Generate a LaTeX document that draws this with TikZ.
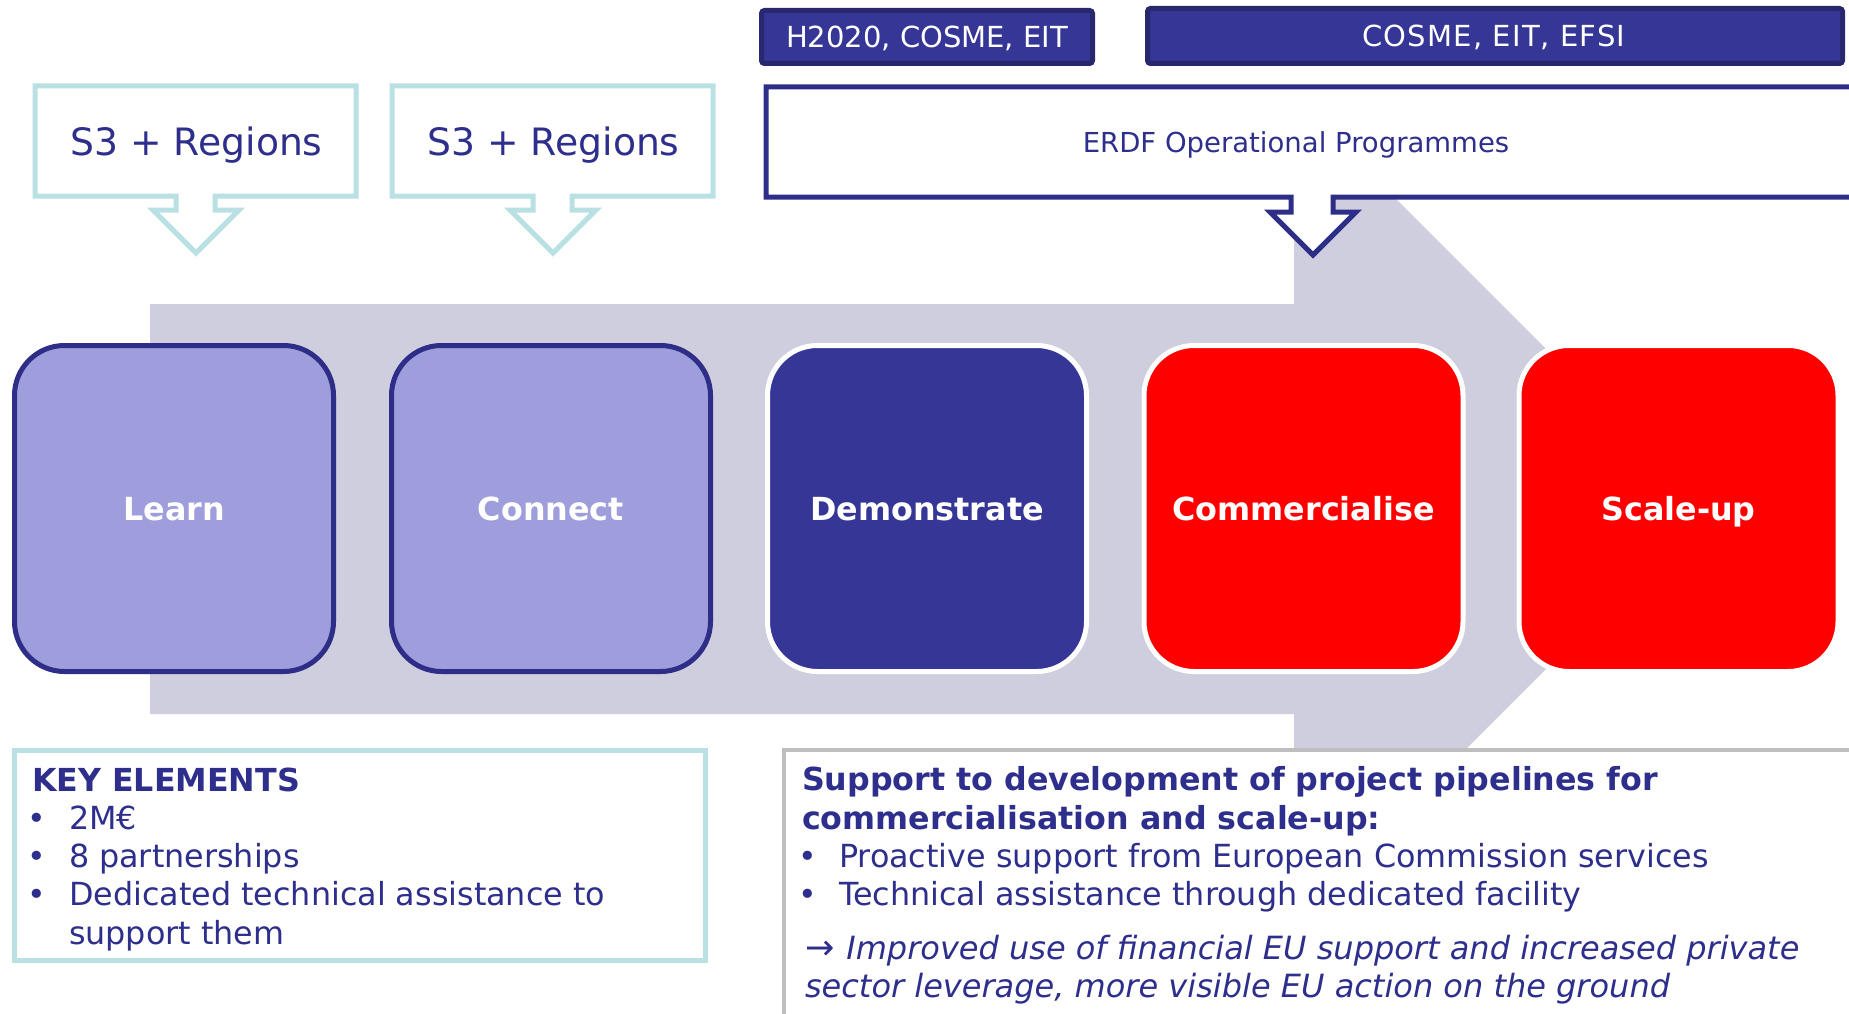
\documentclass[tikz,border=0pt]{standalone}
\usepackage{fontspec}
\setmainfont{DejaVu Sans}
\definecolor{navy}{RGB}{46,46,140}
\definecolor{boxborder}{RGB}{46,46,136}
\definecolor{darkfill}{RGB}{54,54,150}
\definecolor{topborder}{RGB}{40,40,110}
\definecolor{lightfill}{RGB}{158,158,220}
\definecolor{arrowgrey}{RGB}{206,206,222}
\definecolor{cyanline}{RGB}{185,224,227}
\definecolor{supgrey}{RGB}{190,190,190}
\definecolor{eured}{RGB}{255,0,0}
\begin{document}
\begin{tikzpicture}[x=1pt,y=-1pt,
  every node/.style={inner sep=0pt, outer sep=0pt},
  stage/.style={rounded corners=50pt, line width=5pt, minimum width=319pt, minimum height=326pt,
     text=white, text height=23pt, text depth=0pt, font=\fontsize{31.8}{36}\selectfont\bfseries},
  lightstage/.style={stage, draw=boxborder, fill=lightfill},
  darkstage/.style={stage, draw=white, fill=darkfill},
  redstage/.style={stage, draw=white, fill=eured},
  topbox/.style={draw=topborder, fill=darkfill, line width=5pt, rounded corners=3pt},
  toptxt/.style={anchor=base, text=white, font=\fontsize{29}{32}\selectfont},
  s3call/.style={draw=cyanline, fill=white, line width=5pt, line join=miter},
  erdfcall/.style={draw=boxborder, fill=white, line width=5pt, line join=miter},
  txt/.style={anchor=base west, text=navy, font=\fontsize{31.8}{36}\selectfont},
  btxt/.style={txt, font=\fontsize{31.7}{36}\selectfont\bfseries},
  itxt/.style={txt, font=\fontsize{32}{36}\selectfont\itshape},
  bul/.style={anchor=base, text=navy, font=\fontsize{31.5}{36}\selectfont}
]
\useasboundingbox (0,0) rectangle (1849,1014);
\fill[white] (0,0) rectangle (1849,1014);

% big grey arrow
\fill[arrowgrey] (150,304) -- (1294,304) -- (1294,97) -- (1706,509) -- (1294,921)
   -- (1294,714) -- (150,714) -- cycle;

% S3 callouts
\draw[s3call] (35,86) -- (356,86) -- (356,196) -- (215,196) -- (215,210) -- (239,210)
   -- (196,253) -- (153,210) -- (176,210) -- (176,196) -- (35,196) -- cycle;
\node[anchor=base, text=navy, font=\fontsize{37.7}{42}\selectfont] (s3a) at (196.5,155) {S3 + Regions};
\draw[s3call] (392,86) -- (713,86) -- (713,196) -- (572,196) -- (572,210) -- (596,210)
   -- (553,253) -- (510,210) -- (533,210) -- (533,196) -- (392,196) -- cycle;
\node[anchor=base, text=navy, font=\fontsize{37.7}{42}\selectfont] (s3b) at (553.5,155) {S3 + Regions};

% ERDF callout
\draw[erdfcall] (1870,87) -- (766,87) -- (766,197) -- (1291,197) -- (1291,212) -- (1270,212)
   -- (1313,255) -- (1356,212) -- (1333,212) -- (1333,197) -- (1870,197);
\node[anchor=base, text=navy, font=\fontsize{27.5}{32}\selectfont] (erdf) at (1296,153) {ERDF Operational Programmes};

% top funding boxes
\node[topbox, minimum width=331pt, minimum height=53pt] (h2020) at (927,37) {};
\node[toptxt] (h2020t) at (927,48) {H2020, COSME, EIT};
\node[topbox, minimum width=695pt, minimum height=55pt] (cosme) at (1495,36) {};
\node[toptxt, font=\fontsize{29}{32}\selectfont\addfontfeatures{LetterSpace=4}] (cosmet) at (1494,47) {COSME, EIT, EFSI};

% stages
\node[lightstage] (learn) at (174,508.5) {Learn};
\node[lightstage] (connect) at (551,508.5) {Connect};
\node[darkstage] (demo) at (927,508.5) {Demonstrate};
\node[redstage] (comm) at (1303.5,508.5) {Commercialise};
\node[redstage] (scale) at (1678.5,508.5) {Scale-up};

% key elements box
\draw[cyanline, line width=5pt, fill=white] (14.5,750.5) rectangle (705.5,960.5);
\node[btxt] (ke) at (32,791) {KEY ELEMENTS};
\node[bul] (kb1) at (37,829) {•};
\node[txt] (k1) at (69,829) {2M€};
\node[bul] (kb2) at (37,867) {•};
\node[txt] (k2) at (69,867) {8 partnerships};
\node[bul] (kb3) at (37,905) {•};
\node[txt] (k3) at (69,905) {Dedicated technical assistance to};
\node[txt] (k4) at (69,944) {support them};

% support box
\fill[white] (784,750) rectangle (1870,1030);
\draw[supgrey, line width=4pt] (1870,750) -- (784,750) -- (784,1030);
\node[btxt] (s1) at (802,790) {Support to development of project pipelines for};
\node[btxt] (s2) at (802,829) {commercialisation and scale-up:};
\node[bul] (sb1) at (808,867) {•};
\node[txt] (s3) at (839,867) {Proactive support from European Commission services};
\node[bul] (sb2) at (808,905) {•};
\node[txt] (s4) at (839,905) {Technical assistance through dedicated facility};
\node[itxt] (s5) at (805,959) {{\fontsize{35}{36}\selectfont\upshape →}\hspace*{12pt}Improved use of financial EU support and increased private};
\node[itxt] (s6) at (805,997) {sector leverage, more visible EU action on the ground};
\end{tikzpicture}
\end{document}
